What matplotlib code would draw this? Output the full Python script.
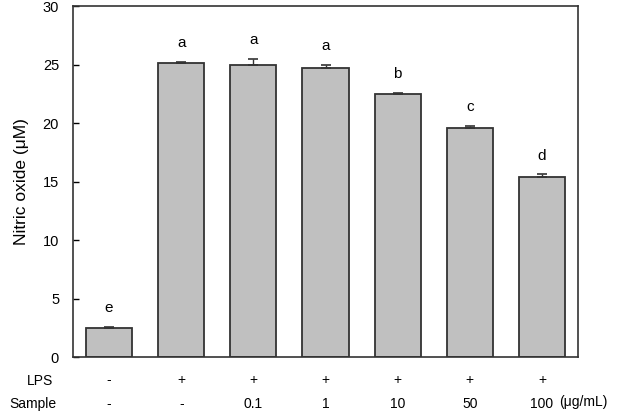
import matplotlib
matplotlib.use("Agg")
import matplotlib.pyplot as plt

plt.rcParams['font.family'] = ['Liberation Sans', 'DejaVu Sans']

values = [2.5, 25.1, 25.0, 24.7, 22.5, 19.6, 15.4]
errors = [0.05, 0.15, 0.5, 0.3, 0.08, 0.15, 0.2]
letters = ['e', 'a', 'a', 'a', 'b', 'c', 'd']
lps = ['-', '+', '+', '+', '+', '+', '+']
sample = ['-', '-', '0.1', '1', '10', '50', '100']

fig = plt.figure(figsize=(6.24, 4.11), dpi=100)
ax = fig.add_axes([73/624, 1-357/411, 505/624, 351/411])
x = list(range(len(values)))
ax.bar(x, values, width=0.64, color='#c0c0c0', edgecolor='#333333', linewidth=1.3,
       yerr=[[0]*len(errors), errors],
       error_kw=dict(ecolor='#333333', elinewidth=1.0, capsize=3.5, capthick=1.2))
for xi, v, e, l in zip(x, values, errors, letters):
    ax.text(xi, v + e + 1.0, l, ha='center', va='bottom', fontsize=11)
ax.set_xlim(-0.5, 6.5)
ax.set_ylim(0, 30)
ax.set_yticks(range(0, 31, 5))
ax.tick_params(axis='y', direction='in', length=4, labelsize=10.5, width=1, pad=10)
ax.set_xticks([])
for s in ax.spines.values():
    s.set_linewidth(1.2)
    s.set_color('#333333')
ax.set_ylabel('Nitric oxide (μM)', fontsize=12.5, labelpad=10)

for xi, a, b in zip(x, lps, sample):
    ax.text(xi, -2.0, a, ha='center', va='center', fontsize=10)
    ax.text(xi, -4.0, b, ha='center', va='center', fontsize=10)
fig.text(40/624, 1-381/411, 'LPS', ha='center', va='center', fontsize=10)
fig.text(33/624, 1-404/411, 'Sample', ha='center', va='center', fontsize=10)
fig.text(583/624, 1-402/411, '(μg/mL)', ha='center', va='center', fontsize=10)

fig.savefig('out.png', dpi=100)
